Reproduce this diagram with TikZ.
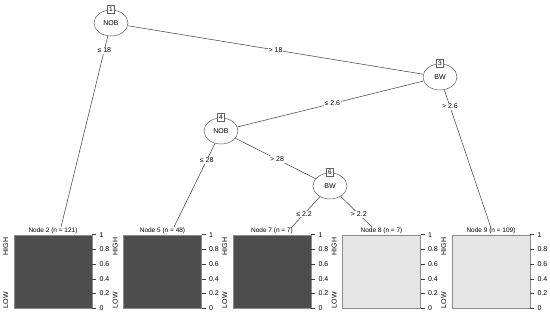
\documentclass[tikz,border=0pt]{standalone}
\usepackage{fontspec}
\setmainfont{Liberation Sans}
\usepackage{tikz}
\usetikzlibrary{shapes.geometric,calc}
\definecolor{edgegray}{RGB}{60,60,60}
\definecolor{linegray}{RGB}{95,95,95}
\definecolor{framegray}{RGB}{140,140,140}
\definecolor{bardark}{RGB}{77,77,77}
\definecolor{barlight}{RGB}{229,229,229}
\tikzset{
  splitnode/.style={draw=linegray,ellipse,minimum width=34pt,minimum height=26pt,inner sep=0pt,
    fill=white,line width=0.5pt,font=\fontsize{7}{8}\selectfont},
  idbox/.style={draw=linegray,fill=white,minimum width=7pt,minimum height=8pt,inner sep=0.8pt,
    line width=0.5pt,font=\fontsize{6.5}{7}\selectfont},
  edge/.style={draw=edgegray,line width=0.5pt},
  elabel/.style={fill=white,inner sep=1pt,font=\fontsize{7}{8}\selectfont},
  leafbox/.style={draw=framegray,minimum width=78pt,minimum height=73pt,inner sep=0pt,line width=0.6pt},
  leaftitle/.style={inner sep=1pt,font=\fontsize{6.5}{7}\selectfont},
  sidelab/.style={rotate=90,inner sep=0pt,font=\fontsize{7}{8}\selectfont},
  tickmark/.style={draw=edgegray,line width=0.5pt},
  ticklab/.style={anchor=west,inner sep=1pt,font=\fontsize{7}{8}\selectfont}
}
\begin{document}
\begin{tikzpicture}[x=1pt,y=-1pt]
  \path[use as bounding box,fill=white] (0,0) rectangle (550,318);
  % inner splits
  \node[splitnode] (nob1) at (111,23) {NOB};
  \node[splitnode] (bw3) at (440,77) {BW};
  \node[splitnode] (nob4) at (221,131) {NOB};
  \node[splitnode] (bw6) at (330,186) {BW};
  \node[idbox] (id1) at (nob1.north) {1};
  \node[idbox] (id3) at (bw3.north) {3};
  \node[idbox] (id4) at (nob4.north) {4};
  \node[idbox] (id6) at (bw6.north) {6};
  % terminal panels
  \foreach \k/\id/\n/\shade in {0/2/121/bardark,1/5/48/bardark,2/7/7/bardark,3/8/7/barlight,4/9/109/barlight}{
    \node[leafbox,fill=\shade] (leaf\id) at (53+109.5*\k,271.5) {};
    \node[leaftitle,anchor=south] (ttl\id) at (leaf\id.north) {Node \id{} (n = \n)};
    \node[sidelab,anchor=east] (hi\id) at ($(leaf\id.north west)+(-8,3)$) {HIGH};
    \node[sidelab,anchor=west] (lo\id) at ($(leaf\id.south west)+(-8,0)$) {LOW};
    \foreach \v [count=\j] in {0,0.2,0.4,0.6,0.8,1}{
      \coordinate (tp\id-\j) at ($(leaf\id.south east)!\v!(leaf\id.north east)$);
      \draw[tickmark] (tp\id-\j) -- ++(4,0);
      \node[ticklab] (tk\id-\j) at ($(tp\id-\j)+(6,0)$) {\v};
    }
  }
  \coordinate (e2) at (61,227);
  \coordinate (e5) at (174,227);
  \coordinate (e7) at (291,228);
  \coordinate (e8) at (372,227);
  \coordinate (e9) at (491,228);
  % edges
  \draw[edge] (nob1) -- node[elabel,pos=0.074]{≤ 18} (e2);
  \draw[edge] (nob1) -- node[elabel,pos=0.5]{> 18} (bw3);
  \draw[edge] (bw3) -- node[elabel,pos=0.49]{≤ 2.6} (nob4);
  \draw[edge] (bw3) -- node[elabel,pos=0.12]{> 2.6} (e9);
  \draw[edge] (nob4) -- node[elabel,pos=0.2]{≤ 28} (e5);
  \draw[edge] (nob4) -- node[elabel,pos=0.52]{> 28} (bw6);
  \draw[edge] (bw6) -- node[elabel,pos=0.55]{≤ 2.2} (e7);
  \draw[edge] (bw6) -- node[elabel,pos=0.58]{> 2.2} (e8);
\end{tikzpicture}
\end{document}
